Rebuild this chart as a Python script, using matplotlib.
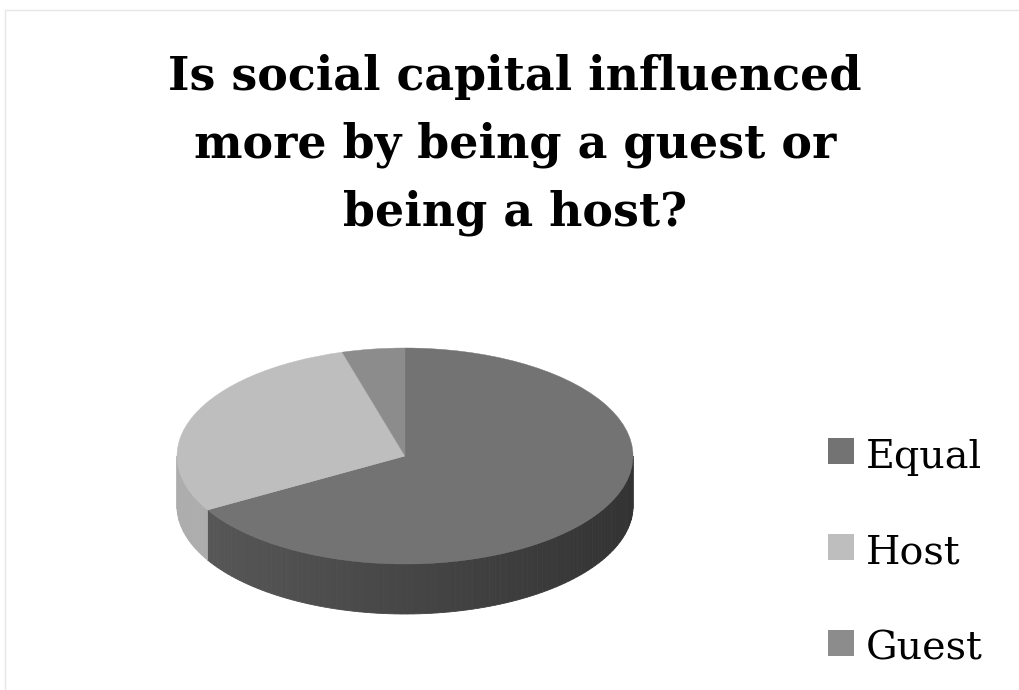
"""
3D-style pie chart: is social capital influenced more by being a guest or a host?
"""
import matplotlib
matplotlib.use('Agg')
import matplotlib.pyplot as plt
import numpy as np
from matplotlib.patches import Wedge, Polygon, Rectangle
from matplotlib.transforms import Affine2D

labels = ['Equal', 'Host', 'Guest']
counts = [30, 13, 2]
top_colors = ['#737373', '#bebebe', '#8c8c8c']
side_colors = [(0.35, 0.20), (0.68, 0.62), (0.50, 0.45)]  # (left grey, right grey)

title = 'Is social capital influenced\nmore by being a guest or\nbeing a host?'

fig = plt.figure(figsize=(10.2, 6.9), dpi=100)
ax = fig.add_axes([0, 0, 1, 1])
ax.set_xlim(0, 1020)
ax.set_ylim(690, 0)
ax.axis('off')

# faint chart-area border
ax.add_patch(Rectangle((5, 10), 1030, 700, fill=False, ec='#e6e6e6', lw=1))

ax.text(515, 145, title, ha='center', va='center', fontsize=33,
        fontweight='bold', family='DejaVu Serif', linespacing=1.6)

# pie geometry (pixels)
cx, cy, a, b, depth = 405, 456, 228, 108, 50
ellipse = Affine2D().scale(a, -b).translate(cx, cy) + ax.transData

fracs = np.array(counts) / sum(counts)
start = 90.0
spans = []
for f in fracs:
    end = start - 360 * f
    spans.append((end, start))
    start = end

# side walls (front half only: 180..360 deg), shaded left-to-right
for (t1, t2), (lo, hi) in zip(spans, side_colors):
    t1n = t1 % 360
    t2n = t1n + (t2 - t1)
    for off in (0, 360, -360):
        s, e = max(t1n + off, 180), min(t2n + off, 360)
        if e <= s:
            continue
        th = np.linspace(s, e, max(int((e - s) / 1.5), 2))
        for k in range(len(th) - 1):
            seg = np.radians([th[k], th[k + 1]])
            xs = cx + a * np.cos(seg)
            ys = cy - b * np.sin(seg)
            frac_x = (xs.mean() - (cx - a)) / (2 * a)
            g = lo + (hi - lo) * frac_x
            pts = [(xs[0], ys[0]), (xs[1], ys[1]),
                   (xs[1], ys[1] + depth), (xs[0], ys[0] + depth)]
            ax.add_patch(Polygon(pts, closed=True, fc=(g, g, g), ec=(g, g, g), lw=0.6))

# top face
for (t1, t2), c in zip(spans, top_colors):
    ax.add_patch(Wedge((0, 0), 1, t1, t2, fc=c, ec=c, lw=0.3, transform=ellipse))

# legend
for i, (lab, c) in enumerate(zip(labels, top_colors)):
    y = 451 + 96 * i
    ax.add_patch(Rectangle((828, y - 13), 26, 26, fc=c, ec='none'))
    ax.text(866, y + 6, lab, ha='left', va='center', fontsize=28.5, family='DejaVu Serif')

fig.savefig('out.png', dpi=100)
